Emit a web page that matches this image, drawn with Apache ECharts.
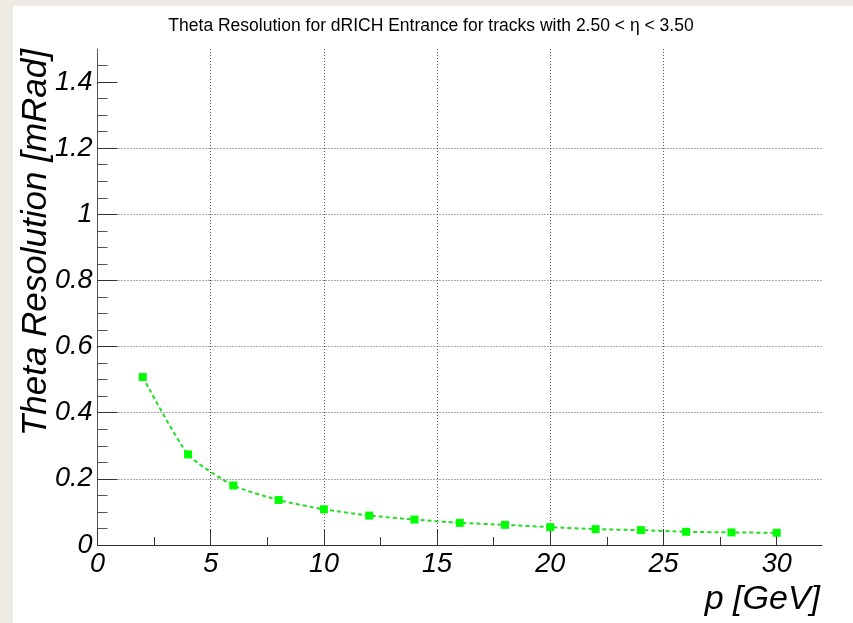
<!DOCTYPE html>
<html>
<head>
<meta charset="utf-8">
<script src="https://cdn.jsdelivr.net/npm/echarts@6.0.0/dist/echarts.min.js"></script>
<style>
  html, body { margin: 0; padding: 0; background: #edeae3; }
  #chart { position: absolute; left: 13px; top: 6px; width: 840px; height: 617px; }
</style>
</head>
<body>
<div id="chart"></div>
<script>
// Momentum bins (GeV) and theta resolution (mrad) at the dRICH entrance
const pValues = [2, 4, 6, 8, 10, 12, 14, 16, 18, 20, 22, 24, 26, 28, 30];
const thetaRes = [0.508, 0.274, 0.180, 0.136, 0.108, 0.089, 0.077, 0.067, 0.061, 0.054, 0.048, 0.045, 0.040, 0.038, 0.037];

// Tick positions
const xMajorTicks = [0, 5, 10, 15, 20, 25, 30];
const xMinorTicks = [2.5, 7.5, 12.5, 17.5, 22.5, 27.5];
const yMajorTicks = [0, 0.2, 0.4, 0.6, 0.8, 1, 1.2, 1.4];
const yMinorTicks = [0.05, 0.1, 0.15, 0.25, 0.3, 0.35, 0.45, 0.5, 0.55, 0.65, 0.7, 0.75,
                     0.85, 0.9, 0.95, 1.05, 1.1, 1.15, 1.25, 1.3, 1.35, 1.45];

const titleText = 'Theta Resolution for dRICH Entrance for tracks with 2.50 < \u03b7 < 3.50';
const xTitle = 'p [GeV]';
const yTitle = 'Theta Resolution [mRad]';

const FONT = '"Liberation Sans", Arial, Helvetica, sans-serif';
const fmt = v => String(Math.round(v * 100) / 100);

const labelStyle = { fontFamily: FONT, fontStyle: 'italic', fontSize: 27, color: '#000' };
const gridLine = { show: true, showMinLine: false, showMaxLine: false,
                   lineStyle: { type: [1, 2], color: '#555', width: 1 } };

const chart = echarts.init(document.getElementById('chart'), null, { renderer: 'canvas' });

chart.setOption({
  backgroundColor: '#ffffff',
  animation: false,
  grid: { left: 84.5, top: 43, right: 31, bottom: 78, containLabel: false },
  xAxis: [
    {
      type: 'value', min: 0, max: 32, interval: 5, position: 'bottom',
      axisLine: { show: true, onZero: false, lineStyle: { color: '#333', width: 1 } },
      axisTick: { show: true, inside: true, length: 16, customValues: xMajorTicks,
                  lineStyle: { color: '#333', width: 1 } },
      axisLabel: Object.assign({ customValues: xMajorTicks, margin: 6, formatter: fmt }, labelStyle),
      splitLine: gridLine
    },
    {
      type: 'value', min: 0, max: 32, position: 'bottom',
      axisLine: { show: false, onZero: false },
      axisTick: { show: true, inside: true, length: 8, customValues: xMinorTicks,
                  lineStyle: { color: '#333', width: 1 } },
      axisLabel: { show: false },
      splitLine: { show: false }
    }
  ],
  yAxis: [
    {
      type: 'value', min: 0, max: 1.5, interval: 0.2, position: 'left',
      axisLine: { show: true, onZero: false, lineStyle: { color: '#555', width: 1 } },
      axisTick: { show: true, inside: true, length: 20, customValues: yMajorTicks,
                  lineStyle: { color: '#333', width: 1 } },
      axisLabel: Object.assign({ customValues: yMajorTicks, margin: 5, formatter: fmt }, labelStyle),
      splitLine: gridLine
    },
    {
      type: 'value', min: 0, max: 1.5, position: 'left',
      axisLine: { show: false, onZero: false },
      axisTick: { show: true, inside: true, length: 10, customValues: yMinorTicks,
                  lineStyle: { color: '#555', width: 1 } },
      axisLabel: { show: false },
      splitLine: { show: false }
    }
  ],
  series: [
    {
      type: 'line',
      xAxisIndex: 0, yAxisIndex: 0,
      data: pValues.map((p, i) => [p, thetaRes[i]]),
      smooth: 0.2,
      symbol: 'rect', symbolSize: 8,
      itemStyle: { color: '#00ff00' },
      lineStyle: { color: '#22dd22', width: 2, type: [4, 3] },
      z: 5
    }
  ],
  graphic: [
    {
      type: 'text', x: 418, y: 20,
      style: { text: titleText, font: '17.5px ' + FONT, fill: '#000',
               align: 'center', verticalAlign: 'middle' }
    },
    {
      type: 'text', x: 807, y: 594,
      style: { text: xTitle, font: 'italic 34px ' + FONT, fill: '#000',
               align: 'right', verticalAlign: 'middle' }
    },
    {
      type: 'text', x: 23, y: 43, rotation: Math.PI / 2,
      style: { text: yTitle, font: 'italic 35px ' + FONT, fill: '#000',
               align: 'right', verticalAlign: 'middle' }
    }
  ]
});
</script>
</body>
</html>
